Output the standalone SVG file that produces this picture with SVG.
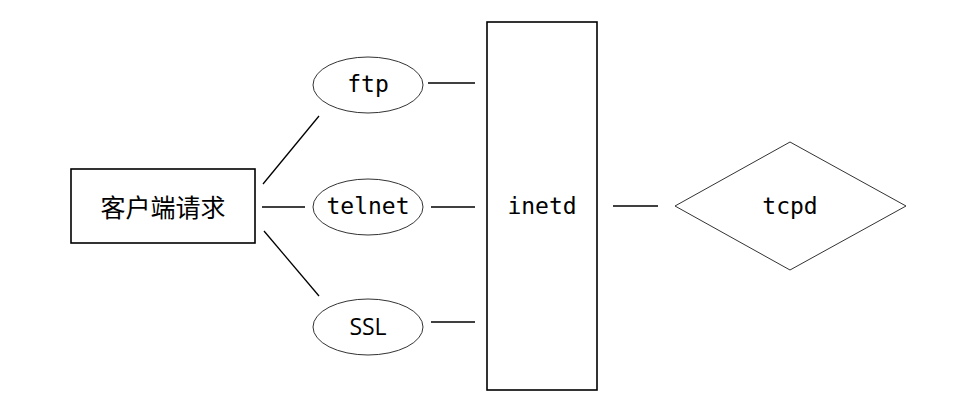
<svg xmlns="http://www.w3.org/2000/svg" width="960" height="418" viewBox="0 0 960 418">
<style>
.box{fill:#fff;stroke:#000;stroke-width:1.6}
.ell{fill:#fff;stroke:#333;stroke-width:1}
.mono{font-family:"DejaVu Sans Mono","Liberation Mono",monospace;font-size:23px;fill:#000;text-anchor:middle;dominant-baseline:central}
.sans{font-family:"Open Sans","Noto Sans","Noto Sans CJK SC",sans-serif;font-size:23px;fill:#000;text-anchor:middle;dominant-baseline:central}
.cn{font-family:"Noto Sans CJK SC","Noto Sans",sans-serif;font-size:25px;fill:#000;text-anchor:middle;dominant-baseline:central}
.conn line{stroke:#000;stroke-width:1.3}
</style>
<rect width="960" height="418" fill="#fff"/>
<g id="connectors" class="conn">
<line x1="263" y1="184" x2="319" y2="116"/>
<line x1="262" y1="207" x2="305" y2="207"/>
<line x1="264" y1="231" x2="319" y2="296"/>
<line x1="428" y1="83" x2="475" y2="83"/>
<line x1="431" y1="207" x2="475" y2="207"/>
<line x1="431" y1="322" x2="475" y2="322"/>
<line x1="613" y1="206" x2="658" y2="206"/>
</g>
<g id="client">
<rect class="box" x="71" y="169" width="184" height="74"/>
<text class="cn" x="163" y="206">客户端请求</text>
</g>
<g id="ftp">
<ellipse class="ell" cx="368" cy="85" rx="55" ry="28"/>
<text class="mono" x="368" y="84">ftp</text>
</g>
<g id="telnet">
<ellipse class="ell" cx="368" cy="207" rx="55" ry="28"/>
<text class="mono" x="368" y="206">telnet</text>
</g>
<g id="ssl">
<ellipse class="ell" cx="368" cy="327" rx="55" ry="28"/>
<text class="sans" x="368" y="326">SSL</text>
</g>
<g id="inetd">
<rect class="box" x="487" y="22" width="110" height="368"/>
<text class="mono" x="542" y="206">inetd</text>
</g>
<g id="tcpd">
<polygon class="ell" points="790,142 906,206 790,270 675,206"/>
<text class="mono" x="790" y="206">tcpd</text>
</g>
</svg>
